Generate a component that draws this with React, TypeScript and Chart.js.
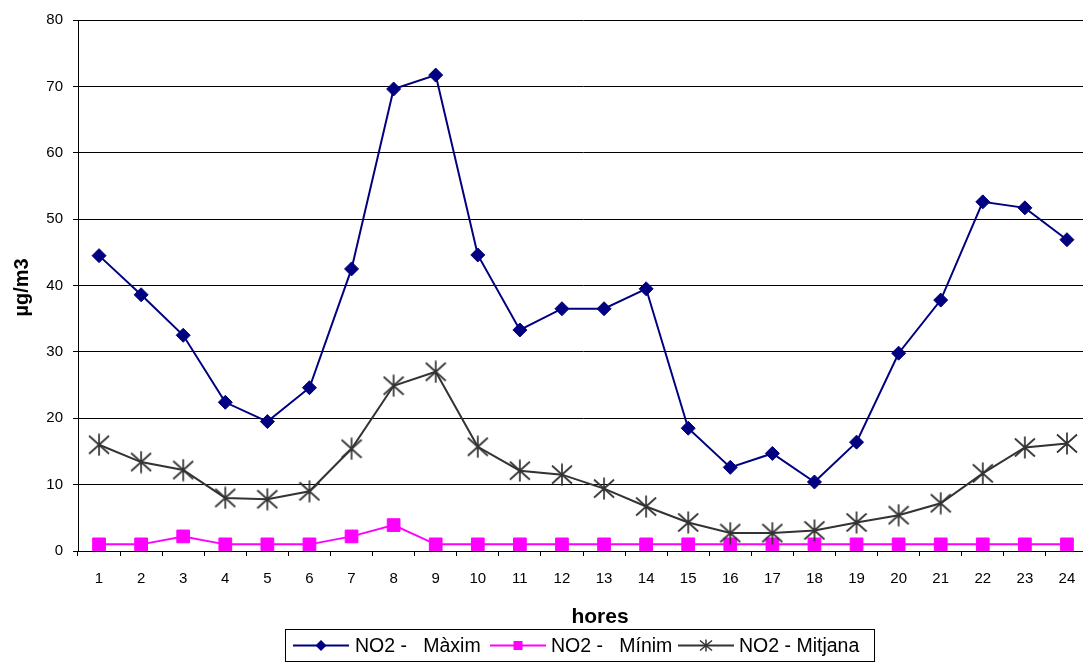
import { useEffect, useRef } from "react";
import { Chart, registerables } from "chart.js";

Chart.register(...registerables);

// Hours of the day (x categories)
const hours = [
  "1", "2", "3", "4", "5", "6", "7", "8", "9", "10", "11", "12",
  "13", "14", "15", "16", "17", "18", "19", "20", "21", "22", "23", "24",
];

// NO2 hourly maximum (µg/m3)
const maxValues = [
  44.5, 38.6, 32.5, 22.4, 19.5, 24.6, 42.5, 69.6, 71.7, 44.6, 33.3, 36.5,
  36.5, 39.5, 18.5, 12.6, 14.7, 10.4, 16.4, 29.8, 37.8, 52.6, 51.7, 46.9,
];

// NO2 hourly minimum (µg/m3)
const minValues = [
  1, 1, 2.2, 1, 1, 1, 2.2, 3.9, 1, 1, 1, 1,
  1, 1, 1, 1, 1, 1, 1, 1, 1, 1, 1, 1,
];

// NO2 hourly mean (µg/m3)
const meanValues = [
  16.0, 13.4, 12.2, 8.0, 7.8, 9.0, 15.4, 24.9, 27.0, 15.7, 12.1, 11.5,
  9.4, 6.7, 4.3, 2.7, 2.7, 3.1, 4.3, 5.4, 7.2, 11.7, 15.6, 16.2,
];

const seriesNames = ["NO2 -   Màxim", "NO2 -   Mínim", "NO2 - Mitjana"];
const seriesColors = ["#000080", "#FF00FF", "#333333"];

const yMin = 0;
const yMax = 80;
const yStep = 10;

const xTitle = "hores";
const yTitle = "µg/m3";

const FONT = "'Liberation Sans', Arial, sans-serif";

// Asterisk marker (vertical bar plus two diagonals)
function makeStar(w: number, h: number, lw: number, color: string) {
  const c = document.createElement("canvas");
  c.width = w;
  c.height = h;
  const ctx = c.getContext("2d")!;
  ctx.strokeStyle = color;
  ctx.lineWidth = lw;
  ctx.lineCap = "butt";
  const cx = w / 2;
  ctx.beginPath();
  ctx.moveTo(cx, 0.5);
  ctx.lineTo(cx, h - 0.5);
  ctx.moveTo(1, 2.5);
  ctx.lineTo(w - 1, h - 2.5);
  ctx.moveTo(w - 1, 2.5);
  ctx.lineTo(1, h - 2.5);
  ctx.stroke();
  return c;
}

// Axis titles and the boxed legend at the bottom
const decorations = {
  id: "decorations",
  afterDraw(chart: any) {
    const ctx: CanvasRenderingContext2D = chart.ctx;
    const area = chart.chartArea;
    ctx.save();
    ctx.fillStyle = "#000";

    // x title
    ctx.font = `bold 21px ${FONT}`;
    ctx.textAlign = "center";
    ctx.textBaseline = "alphabetic";
    ctx.fillText(xTitle, 600, 623);

    // y title
    ctx.save();
    ctx.translate(28, (area.top + area.bottom) / 2 + 2);
    ctx.rotate(-Math.PI / 2);
    ctx.font = `bold 20px ${FONT}`;
    ctx.fillText(yTitle, 0, 0);
    ctx.restore();

    // legend box
    ctx.strokeStyle = "#000";
    ctx.lineWidth = 1;
    ctx.strokeRect(285.5, 629.5, 589, 32);

    const ly = 645.5;
    const items = [
      { x1: 293, x2: 349, tx: 355 },
      { x1: 490, x2: 546, tx: 551 },
      { x1: 678, x2: 734, tx: 739 },
    ];
    items.forEach((it, i) => {
      const color = seriesColors[i];
      ctx.strokeStyle = color;
      ctx.lineWidth = 2;
      ctx.beginPath();
      ctx.moveTo(it.x1, ly);
      ctx.lineTo(it.x2, ly);
      ctx.stroke();
      const mx = (it.x1 + it.x2) / 2;
      ctx.fillStyle = color;
      if (i === 0) {
        ctx.beginPath();
        ctx.moveTo(mx - 5.5, ly);
        ctx.lineTo(mx, ly - 5.5);
        ctx.lineTo(mx + 5.5, ly);
        ctx.lineTo(mx, ly + 5.5);
        ctx.closePath();
        ctx.fill();
      } else if (i === 1) {
        ctx.fillRect(mx - 4.5, ly - 4.5, 9, 9);
      } else {
        ctx.lineWidth = 1.5;
        ctx.beginPath();
        ctx.moveTo(mx, ly - 6);
        ctx.lineTo(mx, ly + 6);
        ctx.moveTo(mx - 6, ly - 5);
        ctx.lineTo(mx + 6, ly + 5);
        ctx.moveTo(mx + 6, ly - 5);
        ctx.lineTo(mx - 6, ly + 5);
        ctx.stroke();
      }
      ctx.fillStyle = "#000";
      ctx.font = `19.5px ${FONT}`;
      ctx.textAlign = "left";
      ctx.textBaseline = "middle";
      ctx.fillText(seriesNames[i], it.tx, ly + 1);
    });
    ctx.restore();
  },
};

export default function App() {
  const canvasRef = useRef<HTMLCanvasElement | null>(null);

  useEffect(() => {
    const canvas = canvasRef.current;
    if (!canvas) return;
    const star = makeStar(22, 23, 1.7, "#333333");

    const chart = new Chart(canvas, {
      type: "line",
      data: {
        labels: hours,
        datasets: [
          {
            label: seriesNames[0],
            data: maxValues,
            borderColor: seriesColors[0],
            backgroundColor: seriesColors[0],
            borderWidth: 2,
            pointStyle: "rectRot",
            pointRadius: 7,
            pointBorderWidth: 1,
            tension: 0,
            order: 2,
          },
          {
            label: seriesNames[1],
            data: minValues,
            borderColor: seriesColors[1],
            backgroundColor: seriesColors[1],
            borderWidth: 2,
            pointStyle: "rect",
            pointRadius: 9,
            pointBorderWidth: 1,
            tension: 0,
            order: 1,
          },
          {
            label: seriesNames[2],
            data: meanValues,
            borderColor: seriesColors[2],
            backgroundColor: seriesColors[2],
            borderWidth: 2,
            pointStyle: star as any,
            pointRadius: 10,
            tension: 0,
            order: 0,
          },
        ],
      },
      options: {
        responsive: false,
        animation: false,
        devicePixelRatio: 1,
        layout: { padding: { top: 20, right: 10, left: 0, bottom: 0 } },
        plugins: {
          legend: { display: false },
          tooltip: { enabled: false },
        },
        scales: {
          x: {
            type: "category",
            offset: true,
            grid: {
              offset: true,
              drawOnChartArea: false,
              drawTicks: true,
              tickLength: 5,
              color: "#000",
            },
            border: { color: "#000", width: 1 },
            ticks: {
              color: "#000",
              font: { family: FONT, size: 15 },
              padding: 14,
              maxRotation: 0,
              autoSkip: false,
            },
            afterFit: (s: any) => {
              s.height = 115;
            },
          },
          y: {
            min: yMin,
            max: yMax,
            grid: { color: "#000", tickLength: 5 },
            border: { color: "#000", width: 1 },
            ticks: {
              stepSize: yStep,
              color: "#000",
              font: { family: FONT, size: 15 },
              padding: 10,
            },
            afterFit: (s: any) => {
              s.width = 78;
            },
          },
        },
      },
      plugins: [decorations],
    });
    return () => chart.destroy();
  }, []);

  return (
    <div
      style={{
        position: "fixed",
        left: 0,
        top: 0,
        width: 1083,
        height: 666,
        overflow: "hidden",
        background: "#fff",
      }}
    >
      <canvas ref={canvasRef} width={1100} height={666} style={{ display: "block" }} />
    </div>
  );
}
